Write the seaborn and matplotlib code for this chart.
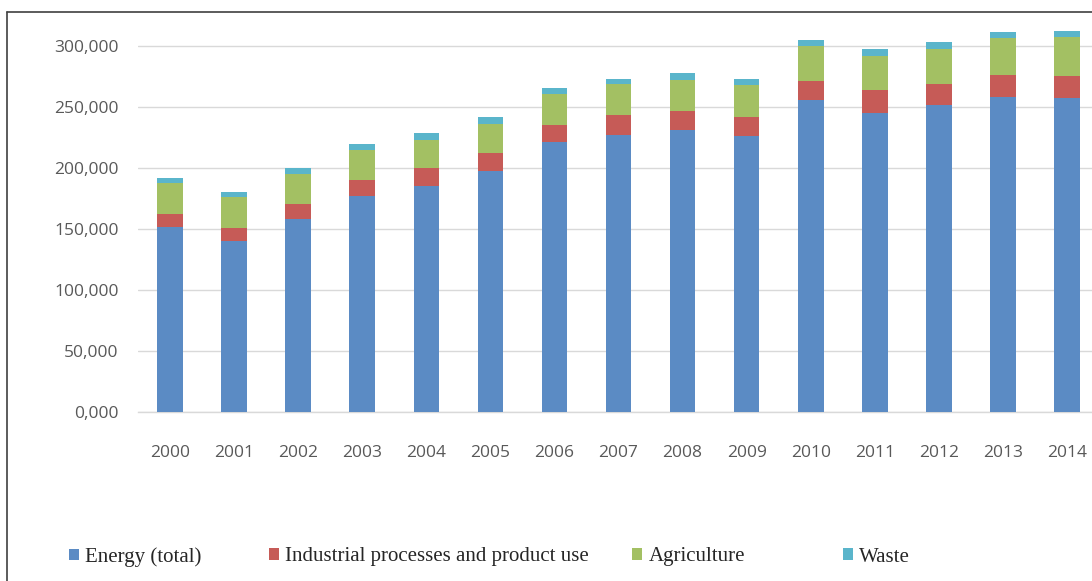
import numpy as np
import pandas as pd
import matplotlib
matplotlib.use("Agg")
import matplotlib.pyplot as plt
import seaborn as sns
from matplotlib.patches import Patch
from matplotlib.lines import Line2D

years = [str(y) for y in range(2000, 2015)]
energy = [151.9, 140.2, 158.2, 177.3, 185.8, 198.1, 221.6, 227.0, 231.1, 226.5,
          255.7, 245.1, 251.6, 258.2, 257.6]
industrial = [10.4, 10.6, 12.5, 13.1, 14.2, 14.2, 14.2, 16.4, 16.2, 15.9,
              15.9, 19.1, 17.3, 18.0, 17.8]
agriculture = [25.4, 25.7, 24.6, 24.6, 23.5, 24.3, 25.4, 25.5, 25.1, 25.6,
               28.4, 28.2, 28.9, 30.4, 32.0]
waste = [4.7, 4.4, 4.7, 4.7, 5.5, 5.5, 4.7, 4.3, 5.5, 5.2,
         5.2, 5.4, 5.5, 5.1, 5.4]
series = ["Energy (total)", "Industrial processes and product use", "Agriculture", "Waste"]
colors = ["#5B8BC4", "#C65B57", "#A3C063", "#5AB5CB"]

df = pd.DataFrame({"year": years, series[0]: energy, series[1]: industrial,
                   series[2]: agriculture, series[3]: waste})
# cumulative stack in real units (values read in thousands)
cum = df[series].cumsum(axis=1) * 1000
cum["year"] = df["year"]

sns.set_style("white")
fig = plt.figure(figsize=(10.92, 5.81), dpi=100)
ax = fig.add_axes([138 / 1092, 1 - 412 / 581, (1092 - 138) / 1092, (412 - 22) / 581])

# draw tallest layer first so lower ones sit on top
for name, col in reversed(list(zip(series, colors))):
    sns.barplot(data=cum, x="year", y=name, color=col, saturation=1, width=0.4,
                ax=ax, zorder=3, edgecolor="none", linewidth=0)

ax.set_ylim(0, 320000)
ax.set_xlim(-0.5, 14.39)
ticks = np.arange(0, 300001, 50000)
ax.set_yticks(ticks)
ax.set_yticklabels([f"{int(t/1000)},000" for t in ticks])
ax.yaxis.grid(True, color="#D9D9D9", linewidth=1, zorder=0)
ax.set_axisbelow(True)
for s in ["top", "right", "left"]:
    ax.spines[s].set_visible(False)
ax.spines["bottom"].set_color("#D9D9D9")
ax.spines["bottom"].set_linewidth(1)
ax.tick_params(axis="both", length=0, labelsize=12.5, labelcolor="#595959")
ax.tick_params(axis="y", pad=14)
ax.tick_params(axis="x", pad=24)
ax.set_xlabel("")
ax.set_ylabel("")
for lab in ax.get_xticklabels() + ax.get_yticklabels():
    lab.set_fontfamily("Open Sans")

# outer frame (left and top edges visible in the crop)
fig.add_artist(Line2D([7 / 1092, 7 / 1092], [0, 1 - 12 / 581], color="#404040", lw=1.2))
fig.add_artist(Line2D([7 / 1092, 1], [1 - 12 / 581, 1 - 12 / 581], color="#404040", lw=1.2))

# legend entries placed individually to keep the original spacing
legend_x = [50, 250, 613, 824]
for name, col, x in zip(series, colors, legend_x):
    fig.legend(handles=[Patch(facecolor=col, edgecolor="none")], labels=[name],
               loc="center left", bbox_to_anchor=(x / 1092, 1 - 557 / 581),
               frameon=False, handlelength=0.5, handleheight=0.5, handletextpad=0.3,
               prop={"family": "Liberation Serif", "size": 15})

fig.savefig("out.png", dpi=100)
